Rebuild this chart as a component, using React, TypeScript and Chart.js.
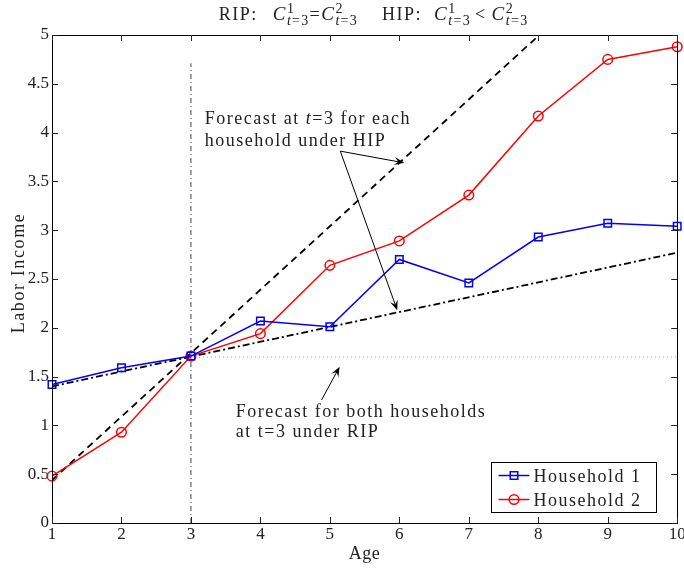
import { useEffect, useRef } from 'react';
import { Chart, registerables } from 'chart.js';

Chart.register(...registerables);

// ---------- data ----------
const ages = [1, 2, 3, 4, 5, 6, 7, 8, 9, 10];
const household1 = [1.42, 1.59, 1.71, 2.07, 2.01, 2.70, 2.46, 2.93, 3.07, 3.04];
const household2 = [0.48, 0.93, 1.71, 1.94, 2.64, 2.89, 3.36, 4.17, 4.75, 4.88];

const hip1X = [1, 10];
const hip1Y = [1.40, 2.77];
const hip2X = [1, 10];
const hip2Y = [0.44, 6.29];
const ripX = [3, 10];
const ripY = [1.70, 1.70];
const t3X = [3, 3];
const t3Y = [0, 4.71];

const xMin = 1;
const xMax = 10;
const yMin = 0;
const yMax = 5;
const yStep = 0.5;

const seriesLabels = ['Household 1', 'Household 2'];
const xTitle = 'Age';
const yTitle = 'Labor Income';

// annotations (anchors in data units)
const hipTextLines = [
  [{ text: 'Forecast at ' }, { text: 't', italic: true }, { text: '=3 for each' }],
  [{ text: 'household under HIP' }],
];
const hipTextAnchor = { x: 3.2, y: 4.09, y2: 3.865 };
const hipArrowStart = { x: 5.15, y: 3.81 };
const hipArrowEnds = [{ x: 6.07, y: 3.69 }, { x: 5.97, y: 2.18 }];

const ripTextLines = [
  [{ text: 'Forecast for both households' }],
  [{ text: 'at t=3 under RIP' }],
];
const ripTextAnchor = { x: 3.645, y: 1.086, y2: 0.88 };
const ripArrowStart = { x: 4.88, y: 1.26 };
const ripArrowEnd = { x: 5.14, y: 1.60 };

const FONT = '"Liberation Serif", "Times New Roman", serif';
const LS = 1.5;

type Seg = { text?: string; italic?: boolean; size?: number; dy?: number; advance?: boolean; gap?: number };

const SUP = { size: 14, dy: -7, advance: false };
const SUB = { size: 14, dy: 5 };

const titleSegs: Seg[] = [
  { text: 'RIP:' },
  { gap: 15 },
  { text: 'C', italic: true, size: 19 },
  { text: '1', ...SUP },
  { text: 't', italic: true, ...SUB },
  { text: '=3', ...SUB },
  { text: '=' },
  { text: 'C', italic: true, size: 19 },
  { text: '2', ...SUP },
  { text: 't', italic: true, ...SUB },
  { text: '=3', ...SUB },
  { gap: 24 },
  { text: 'HIP:' },
  { gap: 12 },
  { text: 'C', italic: true, size: 19 },
  { text: '1', ...SUP },
  { text: 't', italic: true, ...SUB },
  { text: '=3', ...SUB },
  { gap: 4 },
  { text: '<' },
  { gap: 5 },
  { text: 'C', italic: true, size: 19 },
  { text: '2', ...SUP },
  { text: 't', italic: true, ...SUB },
  { text: '=3', ...SUB },
];

function setFont(ctx: CanvasRenderingContext2D, s: Seg) {
  ctx.font = `${s.italic ? 'italic ' : ''}${s.size ?? 18}px ${FONT}`;
  (ctx as any).letterSpacing = (s.size ?? 18) >= 16 ? `${LS}px` : '1.3px';
}

function segsWidth(ctx: CanvasRenderingContext2D, segs: Seg[]) {
  let w = 0;
  for (const s of segs) {
    if (s.gap) { w += s.gap; continue; }
    setFont(ctx, s);
    if (s.advance !== false) w += ctx.measureText(s.text || '').width;
  }
  return w;
}

function drawSegs(ctx: CanvasRenderingContext2D, segs: Seg[], x: number, y: number) {
  let cx = x;
  ctx.textBaseline = 'alphabetic';
  ctx.textAlign = 'left';
  for (const s of segs) {
    if (s.gap) { cx += s.gap; continue; }
    setFont(ctx, s);
    ctx.fillText(s.text || '', cx, y + (s.dy ?? 0));
    if (s.advance !== false) cx += ctx.measureText(s.text || '').width;
  }
}

function arrow(ctx: CanvasRenderingContext2D, x1: number, y1: number, x2: number, y2: number) {
  const a = Math.atan2(y2 - y1, x2 - x1);
  const L = 10;
  const W = 4;
  ctx.beginPath();
  ctx.moveTo(x1, y1);
  ctx.lineTo(x2 - Math.cos(a) * 4, y2 - Math.sin(a) * 4);
  ctx.stroke();
  ctx.beginPath();
  ctx.moveTo(x2, y2);
  ctx.lineTo(x2 - L * Math.cos(a) + W * Math.sin(a), y2 - L * Math.sin(a) - W * Math.cos(a));
  ctx.lineTo(x2 - 0.6 * L * Math.cos(a), y2 - 0.6 * L * Math.sin(a));
  ctx.lineTo(x2 - L * Math.cos(a) - W * Math.sin(a), y2 - L * Math.sin(a) + W * Math.cos(a));
  ctx.closePath();
  ctx.fill();
}

const decorPlugin = {
  id: 'decor',
  afterDatasetsDraw(chart: any) {
    const ctx: CanvasRenderingContext2D = chart.ctx;
    const { left, right, top, bottom } = chart.chartArea;
    const xs = chart.scales.x;
    const ys = chart.scales.y;
    ctx.save();
    // box
    ctx.strokeStyle = '#000';
    ctx.lineWidth = 1;
    ctx.setLineDash([]);
    ctx.strokeRect(Math.round(left) + 0.5, Math.round(top) + 0.5, Math.round(right - left), Math.round(bottom - top));
    // inward ticks
    ctx.strokeStyle = '#222';
    const tl = 6;
    ctx.beginPath();
    for (let v = xMin; v <= xMax; v += 1) {
      const px = Math.round(xs.getPixelForValue(v)) + 0.5;
      ctx.moveTo(px, bottom); ctx.lineTo(px, bottom - tl);
      ctx.moveTo(px, top); ctx.lineTo(px, top + tl);
    }
    for (let v = yMin; v <= yMax + 1e-9; v += yStep) {
      const py = Math.round(ys.getPixelForValue(v)) + 0.5;
      ctx.moveTo(left, py); ctx.lineTo(left + tl, py);
      ctx.moveTo(right, py); ctx.lineTo(right - tl, py);
    }
    ctx.stroke();

    // annotations
    ctx.fillStyle = '#222';
    ctx.strokeStyle = '#000';
    ctx.lineWidth = 1;
    const P = (p: { x: number; y: number }) => [xs.getPixelForValue(p.x), ys.getPixelForValue(p.y)];
    drawSegs(ctx, hipTextLines[0], xs.getPixelForValue(hipTextAnchor.x), ys.getPixelForValue(hipTextAnchor.y));
    drawSegs(ctx, hipTextLines[1], xs.getPixelForValue(hipTextAnchor.x), ys.getPixelForValue(hipTextAnchor.y2));
    drawSegs(ctx, ripTextLines[0], xs.getPixelForValue(ripTextAnchor.x), ys.getPixelForValue(ripTextAnchor.y));
    drawSegs(ctx, ripTextLines[1], xs.getPixelForValue(ripTextAnchor.x), ys.getPixelForValue(ripTextAnchor.y2));
    ctx.fillStyle = '#000';
    const [sx, sy] = P(hipArrowStart);
    for (const e of hipArrowEnds) {
      const [ex, ey] = P(e);
      arrow(ctx, sx, sy, ex, ey);
    }
    {
      const [ax, ay] = P(ripArrowStart);
      const [bx, by] = P(ripArrowEnd);
      arrow(ctx, ax, ay, bx, by);
    }

    // legend
    const bw = 165, bh = 50;
    const bx0 = Math.round(right - 21 - bw) + 0.5;
    const by0 = Math.round(bottom - 11 - bh) + 0.5;
    ctx.fillStyle = '#fff';
    ctx.fillRect(bx0, by0, bw, bh);
    ctx.strokeStyle = '#000';
    ctx.lineWidth = 1;
    ctx.strokeRect(bx0, by0, bw, bh);
    chart.data.datasets.slice(0, 2).forEach((ds: any, i: number) => {
      const cy = by0 + 13 + i * 24;
      ctx.strokeStyle = ds.borderColor;
      ctx.lineWidth = ds.borderWidth;
      ctx.setLineDash([]);
      ctx.beginPath();
      ctx.moveTo(bx0 + 7, cy); ctx.lineTo(bx0 + 38, cy);
      ctx.stroke();
      ctx.beginPath();
      if (ds.pointStyle === 'rect') {
        const s = ds.pointRadius * Math.SQRT1_2;
        ctx.rect(bx0 + 22.5 - s, cy - s, 2 * s, 2 * s);
      } else {
        ctx.arc(bx0 + 22.5, cy, ds.pointRadius, 0, Math.PI * 2);
      }
      ctx.stroke();
      ctx.fillStyle = '#222';
      drawSegs(ctx, [{ text: ds.label }], bx0 + 42, cy + 6);
    });

    // title
    ctx.fillStyle = '#222';
    const tw = segsWidth(ctx, titleSegs);
    drawSegs(ctx, titleSegs, (left + right) / 2 + 9 - tw / 2, top - 15);

    // axis titles
    ctx.font = `18px ${FONT}`;
    (ctx as any).letterSpacing = '0.5px';
    ctx.textAlign = 'center';
    ctx.textBaseline = 'alphabetic';
    ctx.fillText(xTitle, (left + right) / 2, bottom + 36);
    ctx.save();
    ctx.translate(24, (top + bottom) / 2 - 6);
    ctx.rotate(-Math.PI / 2);
    (ctx as any).letterSpacing = '1.6px';
    ctx.fillText(yTitle, 0, 0);
    ctx.restore();
    ctx.restore();
  },
};

function pts(xa: number[], ya: number[]) {
  return xa.map((x, i) => ({ x, y: ya[i] }));
}

export default function App() {
  const ref = useRef<HTMLCanvasElement | null>(null);
  useEffect(() => {
    if (!ref.current) return;
    const chart = new Chart(ref.current, {
      type: 'scatter',
      data: {
        datasets: [
          {
            label: seriesLabels[0],
            data: pts(ages, household1),
            showLine: true,
            borderColor: '#0000ff',
            backgroundColor: 'rgba(0,0,0,0)',
            borderWidth: 1.5,
            pointStyle: 'rect',
            pointRadius: 5.3,
            pointBorderWidth: 1.5,
            clip: false,
          } as any,
          {
            label: seriesLabels[1],
            data: pts(ages, household2),
            showLine: true,
            borderColor: '#ff0000',
            backgroundColor: 'rgba(0,0,0,0)',
            borderWidth: 1.5,
            pointStyle: 'circle',
            pointRadius: 4.8,
            pointBorderWidth: 1.5,
            clip: false,
          } as any,
          {
            label: 'hip2',
            data: pts(hip2X, hip2Y),
            showLine: true,
            borderColor: '#000',
            borderWidth: 1.8,
            borderDash: [7, 5],
            pointRadius: 0,
            clip: 0,
          } as any,
          {
            label: 'hip1',
            data: pts(hip1X, hip1Y),
            showLine: true,
            borderColor: '#000',
            borderWidth: 1.8,
            borderDash: [7, 3, 2, 3],
            pointRadius: 0,
            clip: 0,
          } as any,
          {
            label: 'rip',
            data: pts(ripX, ripY),
            showLine: true,
            borderColor: '#999',
            borderWidth: 1,
            borderDash: [1, 3],
            pointRadius: 0,
            clip: 0,
          } as any,
          {
            label: 't3',
            data: pts(t3X, t3Y),
            showLine: true,
            borderColor: '#444',
            borderWidth: 1,
            borderDash: [5, 3, 1, 3],
            pointRadius: 0,
            clip: 0,
          } as any,
        ],
      },
      options: {
        responsive: false,
        animation: false,
        devicePixelRatio: 1,
        layout: { padding: { top: 35, right: 4, left: 0, bottom: 0 } },
        plugins: {
          legend: { display: false },
          title: { display: false },
          tooltip: { enabled: false },
        },
        scales: {
          x: {
            type: 'linear',
            min: xMin,
            max: xMax,
            grid: { display: false, drawTicks: false },
            border: { display: false },
            ticks: {
              stepSize: 1,
              autoSkip: false,
              maxRotation: 0,
              padding: 1,
              color: '#222',
              font: { family: FONT, size: 17 },
              callback: (v: any) => String(Number(v)),
            },
            afterFit: (s: any) => {
              s.height = 46;
              s.paddingLeft = 0;
              s.paddingRight = 0;
            },
          },
          y: {
            type: 'linear',
            min: yMin,
            max: yMax,
            grid: { display: false, drawTicks: false },
            border: { display: false },
            ticks: {
              stepSize: yStep,
              autoSkip: false,
              padding: 3,
              color: '#222',
              font: { family: FONT, size: 17 },
              callback: (v: any) => String(Math.round(Number(v) * 100) / 100),
            },
            afterFit: (s: any) => {
              s.width = 52;
              s.paddingTop = 0;
              s.paddingBottom = 0;
            },
          },
        },
      } as any,
      plugins: [decorPlugin],
    });
    return () => chart.destroy();
  }, []);
  return (
    <div style={{ position: 'fixed', left: 0, top: 0, width: 684, height: 569, background: '#fff' }}>
      <canvas ref={ref} width={684} height={569} />
    </div>
  );
}
